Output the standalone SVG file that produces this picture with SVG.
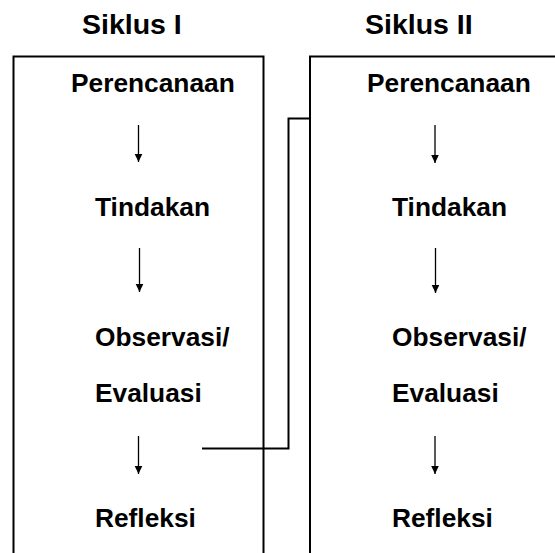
<svg xmlns="http://www.w3.org/2000/svg" width="555" height="553" viewBox="0 0 555 553">
<style>
text{font-family:"Liberation Sans",Arial,sans-serif;font-weight:bold;fill:#000}
.t{font-size:28.5px}
.b{font-size:26.3px}
.box{fill:none;stroke:#000;stroke-width:2}
.ar{stroke:#000;stroke-width:1.3;fill:none;marker-end:url(#ah)}
.con{fill:none;stroke:#000;stroke-width:2}
</style>
<defs>
<marker id="ah" viewBox="0 0 8 10" refX="8" refY="5" markerWidth="8" markerHeight="10" markerUnits="userSpaceOnUse" orient="auto">
<path d="M0,1.2 L8,5 L0,8.8 Z" fill="#000"/>
</marker>
</defs>
<rect width="555" height="553" fill="#fff"/>
<g id="siklus1">
<text class="t" x="82" y="34">Siklus I</text>
<rect class="box" x="13.5" y="56.5" width="250" height="520"/>
</g>
<g id="siklus2">
<text class="t" x="365" y="34">Siklus II</text>
<rect class="box" x="310" y="56.5" width="270" height="520"/>
</g>
<g id="s1-perencanaan"><text class="b" x="71" y="92">Perencanaan</text></g>
<g id="s1-tindakan"><text class="b" x="95" y="216">Tindakan</text></g>
<g id="s1-observasi"><text class="b" x="95" y="346">Observasi/</text><text class="b" x="95" y="402">Evaluasi</text></g>
<g id="s1-refleksi"><text class="b" x="95" y="527">Refleksi</text></g>
<g id="s2-perencanaan"><text class="b" x="367" y="92">Perencanaan</text></g>
<g id="s2-tindakan"><text class="b" x="392" y="216">Tindakan</text></g>
<g id="s2-observasi"><text class="b" x="392" y="346">Observasi/</text><text class="b" x="392" y="402">Evaluasi</text></g>
<g id="s2-refleksi"><text class="b" x="392" y="527">Refleksi</text></g>
<g id="connectors">
<line class="ar" x1="138.5" y1="125" x2="138.5" y2="162"/>
<line class="ar" x1="139.5" y1="248" x2="139.5" y2="292"/>
<line class="ar" x1="138.5" y1="436" x2="138.5" y2="474"/>
<line class="ar" x1="435" y1="125" x2="435" y2="163"/>
<line class="ar" x1="435.5" y1="248" x2="435.5" y2="293"/>
<line class="ar" x1="435" y1="436" x2="435" y2="474"/>
<path class="con" d="M202,448.5 H288.5 V118.5 H310"/>
</g>
</svg>
